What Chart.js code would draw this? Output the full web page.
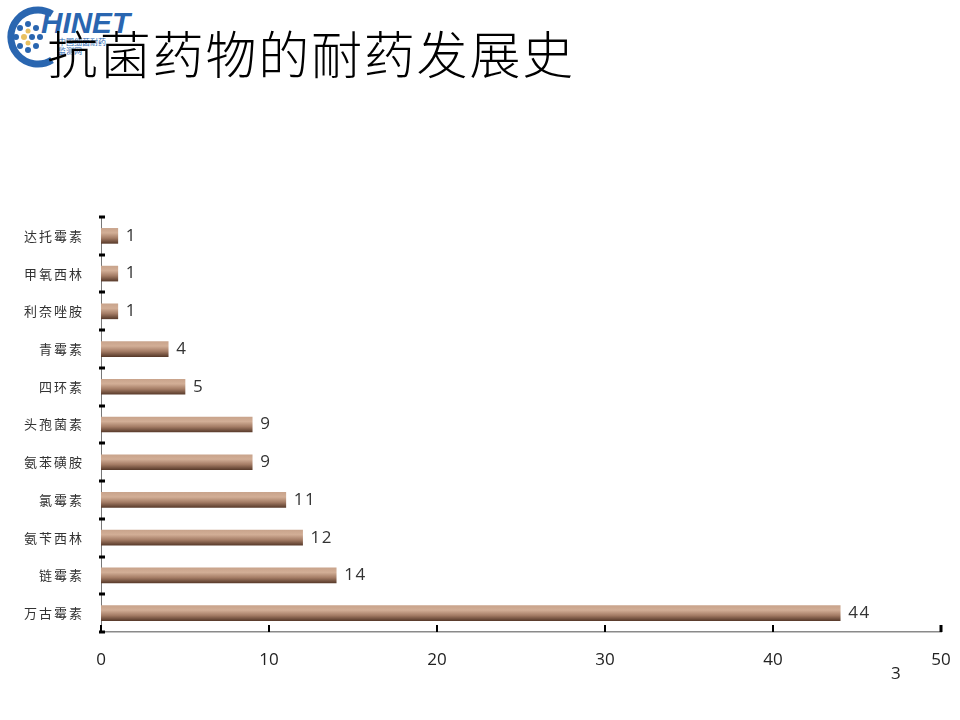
<!DOCTYPE html>
<html>
<head>
<meta charset="utf-8">
<script src="https://cdn.jsdelivr.net/npm/chart.js@4"></script>
<style>
  html,body{margin:0;padding:0;background:#fff;}
  #wrap{position:relative;width:960px;height:720px;overflow:hidden;}
  #c{position:absolute;left:0;top:0;}
  #title{position:absolute;left:47px;top:22px;font-family:"Noto Sans CJK SC",sans-serif;font-weight:300;font-size:51px;line-height:60px;color:#000;letter-spacing:1.8px;}
  #page{position:absolute;left:891px;top:661px;font-family:"Open Sans","Noto Sans",sans-serif;font-size:17px;color:#222;}
  #logo{position:absolute;left:0;top:0;}
</style>
</head>
<body>
<div id="wrap">
  <svg id="logo" width="140" height="70" viewBox="0 0 140 70">
    <path d="M52 14 A27 27 0 1 0 52 60" fill="none" stroke="#2a66b0" stroke-width="7"/>
    <g fill="#2a66b0">
      <circle cx="20" cy="28" r="3"/><circle cx="28" cy="24" r="3"/><circle cx="36" cy="28" r="3"/>
      <circle cx="16" cy="37" r="3"/><circle cx="32" cy="37" r="3"/><circle cx="40" cy="37" r="3"/>
      <circle cx="20" cy="46" r="3"/><circle cx="36" cy="46" r="3"/><circle cx="28" cy="50" r="3"/>
    </g>
    <g fill="#e8c060">
      <circle cx="24" cy="37" r="3"/><circle cx="28" cy="31" r="2.5"/><circle cx="28" cy="43" r="2.5"/>
    </g>
    <text x="41" y="33" font-family="Liberation Sans, Arial, sans-serif" font-weight="bold" font-style="italic" font-size="30" fill="#2a66b0" textLength="89" lengthAdjust="spacingAndGlyphs">HINET</text>
    <text x="58" y="45" font-family="Noto Sans CJK SC, sans-serif" font-size="8" fill="#2a66b0">中国细菌耐药</text>
    <text x="58" y="54" font-family="Noto Sans CJK SC, sans-serif" font-size="8" fill="#2a66b0">监测网</text>
  </svg>
  <div id="title">抗菌药物的耐药发展史</div>
  <canvas id="c" width="960" height="720"></canvas>
  <div id="page">3</div>
</div>
<script>
const categories = ["达托霉素","甲氧西林","利奈唑胺","青霉素","四环素","头孢菌素","氨苯磺胺","氯霉素","氨苄西林","链霉素","万古霉素"];
const values = [1,1,1,4,5,9,9,11,12,14,44];
const xTicks = [0,10,20,30,40,50];

const innerTicks = {
  id: 'innerTicks',
  afterDraw(chart) {
    const ctx = chart.ctx;
    const xs = chart.scales.x, ys = chart.scales.y;
    const x0 = xs.getPixelForValue(0);
    ctx.save();
    ctx.fillStyle = '#000';
    for (let i = 0; i <= categories.length; i++) {
      const y = ys.getPixelForValue(i - 0.5);
      ctx.fillRect(x0 - 2, Math.round(y) - 1.5, 6, 3);
    }
    const yb = ys.bottom;
    xTicks.forEach((v, i) => {
      const x = xs.getPixelForValue(v);
      const w = (i === xTicks.length - 1) ? 3 : 2;
      ctx.fillRect(Math.round(x) - w / 2, yb - 7, w, 7);
    });
    ctx.restore();
  }
};

const valueLabels = {
  id: 'valueLabels',
  afterDatasetsDraw(chart) {
    const ctx = chart.ctx;
    const meta = chart.getDatasetMeta(0);
    ctx.save();
    ctx.font = '17px "Open Sans", "Noto Sans", sans-serif';
    ctx.fillStyle = '#333';
    ctx.textBaseline = 'middle';
    ctx.textAlign = 'left';
    ctx.letterSpacing = '1.5px';
    meta.data.forEach((el, i) => {
      ctx.fillText(String(values[i]), el.x + 8, el.y);
    });
    ctx.restore();
  }
};

const chart = new Chart(document.getElementById('c'), {
  type: 'bar',
  data: {
    labels: categories,
    datasets: [{
      data: values,
      barThickness: 15,
      borderWidth: 0,
      backgroundColor(context) {
        const chart = context.chart;
        const ys = chart.scales.y;
        if (!ys) return '#a57e68';
        const yc = ys.getPixelForValue(context.dataIndex);
        if (!isFinite(yc)) return '#a57e68';
        const g = chart.ctx.createLinearGradient(0, yc - 7.5, 0, yc + 7.5);
        g.addColorStop(0, '#c9a48c');
        g.addColorStop(0.3, '#d2ae96');
        g.addColorStop(0.65, '#a47c65');
        g.addColorStop(1, '#5a3c2c');
        return g;
      }
    }]
  },
  options: {
    indexAxis: 'y',
    responsive: false,
    animation: false,
    devicePixelRatio: 1,
    layout: { padding: { top: 217, right: 19, left: 0, bottom: 0 } },
    plugins: { legend: { display: false }, tooltip: { enabled: false } },
    scales: {
      x: {
        min: 0, max: 50,
        afterBuildTicks(scale) { scale.ticks = xTicks.map(v => ({ value: v })); },
        afterFit(scale) { scale.height = 88; scale.paddingRight = 0; scale.paddingLeft = 0; },
        grid: { display: false, drawTicks: false },
        border: { display: true, color: '#8a8a8a', width: 1.5 },
        ticks: {
          padding: 18,
          color: '#222',
          font: { size: 17, family: '"Open Sans", "Noto Sans", sans-serif' }
        }
      },
      y: {
        afterFit(scale) { scale.width = 101; scale.paddingTop = 0; scale.paddingBottom = 0; },
        afterUpdate(scale) {
          if (scale._spacedLabels) return;
          scale._spacedLabels = true;
          const orig = scale.drawLabels.bind(scale);
          scale.drawLabels = function (area) {
            const ctx = scale.ctx;
            const prev = ctx.letterSpacing;
            ctx.letterSpacing = '2px';
            orig(area);
            ctx.letterSpacing = prev || '0px';
          };
        },
        grid: { display: false, drawTicks: false },
        border: { display: true, color: '#777', width: 1, dash: [1, 1] },
        ticks: {
          padding: 17,
          color: '#333',
          font: { size: 13, family: '"Noto Sans CJK SC", sans-serif' }
        }
      }
    }
  },
  plugins: [innerTicks, valueLabels]
});
chart.update();
</script>
</body>
</html>
